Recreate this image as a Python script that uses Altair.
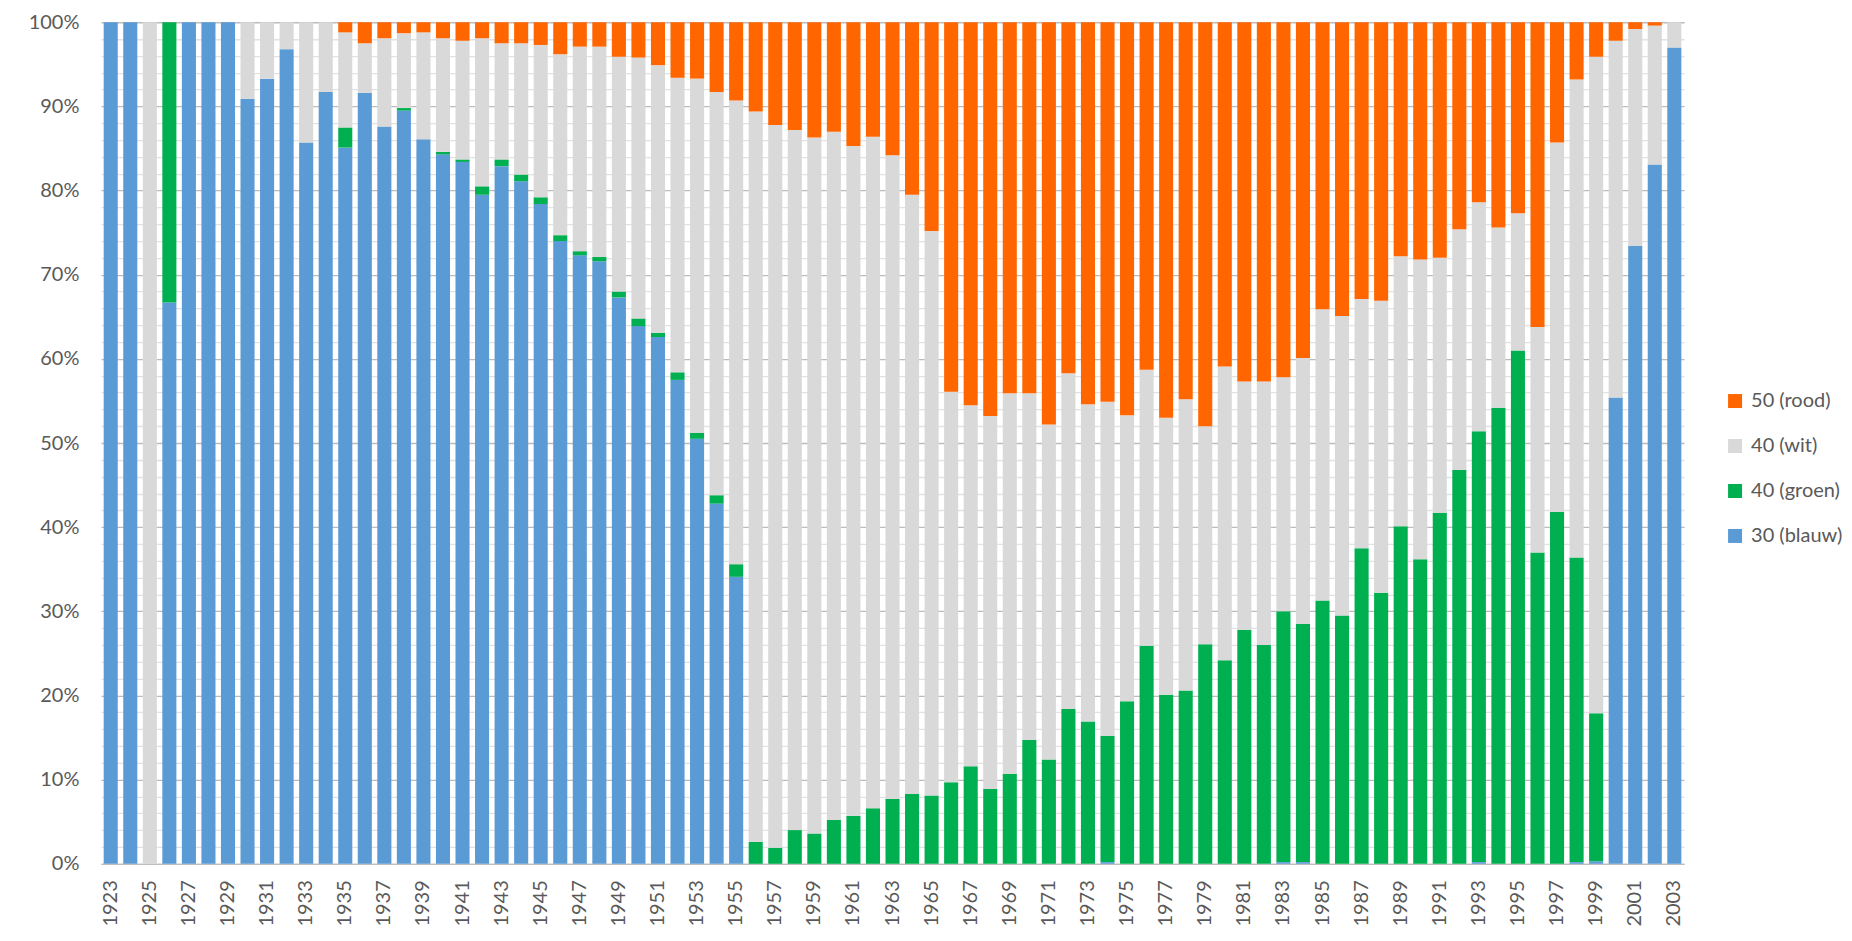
import altair as alt
import pandas as pd

years = list(range(1923, 2004))

# shares in percent per year (1923 .. 2003)
blauw = [100, 100, 0, 66.7, 100, 100, 100, 90.9, 93.3, 96.8,
         85.7, 91.7, 85.1, 91.6, 87.6, 89.5, 86.1, 84.3, 83.4, 79.5,
         82.9, 81.1, 78.4, 74.0, 72.3, 71.6, 67.3, 63.9, 62.6, 57.5,
         50.5, 42.8, 34.1, 0, 0, 0, 0, 0, 0, 0,
         0, 0, 0, 0, 0, 0, 0, 0, 0, 0,
         0, 0.2, 0, 0, 0, 0, 0, 0, 0, 0,
         0.2, 0.2, 0, 0, 0, 0, 0, 0, 0, 0,
         0.2, 0, 0, 0, 0, 0.2, 0.3, 55.4, 73.4, 83.1,
         97.0]
groen = [0, 0, 0, 33.3, 0, 0, 0, 0, 0, 0,
         0, 0, 2.4, 0, 0, 0.3, 0, 0.3, 0.3, 1.0,
         0.8, 0.8, 0.8, 0.7, 0.5, 0.5, 0.7, 0.9, 0.5, 0.9,
         0.7, 1.0, 1.5, 2.6, 1.9, 4.0, 3.6, 5.2, 5.7, 6.6,
         7.7, 8.3, 8.1, 9.7, 11.6, 8.9, 10.7, 14.7, 12.4, 18.4,
         16.9, 15.0, 19.3, 25.9, 20.1, 20.6, 26.1, 24.2, 27.8, 26.0,
         29.8, 28.3, 31.3, 29.5, 37.5, 32.2, 40.1, 36.2, 41.7, 46.8,
         51.2, 54.2, 61.0, 37.0, 41.8, 36.2, 17.6, 0, 0, 0,
         0]
wit = [0, 0, 100, 0, 0, 0, 0, 9.1, 6.7, 3.2,
       14.3, 8.3, 11.3, 5.9, 10.5, 8.9, 12.7, 13.5, 14.1, 17.6,
       13.8, 15.6, 18.1, 21.5, 24.3, 25.0, 27.9, 31.0, 31.8, 35.0,
       42.1, 47.9, 55.1, 86.8, 85.9, 83.2, 82.7, 81.8, 79.6, 79.8,
       76.5, 71.2, 67.1, 46.4, 42.9, 44.3, 45.2, 41.2, 39.8, 39.9,
       37.7, 39.7, 34.0, 32.8, 32.9, 34.6, 25.9, 34.9, 29.5, 31.3,
       27.8, 31.6, 34.6, 35.6, 29.6, 34.7, 32.1, 35.6, 30.3, 28.6,
       27.2, 21.4, 16.3, 26.8, 43.9, 56.8, 78.0, 42.4, 25.8, 16.5,
       3.0]
rood = [0, 0, 0, 0, 0, 0, 0, 0, 0, 0,
        0, 0, 1.2, 2.5, 1.9, 1.3, 1.2, 1.9, 2.2, 1.9,
        2.5, 2.5, 2.7, 3.8, 2.9, 2.9, 4.1, 4.2, 5.1, 6.6,
        6.7, 8.3, 9.3, 10.6, 12.2, 12.8, 13.7, 13.0, 14.7, 13.6,
        15.8, 20.5, 24.8, 43.9, 45.5, 46.8, 44.1, 44.1, 47.8, 41.7,
        45.4, 45.1, 46.7, 41.3, 47.0, 44.8, 48.0, 40.9, 42.7, 42.7,
        42.2, 39.9, 34.1, 34.9, 32.9, 33.1, 27.8, 28.2, 28.0, 24.6,
        21.4, 24.4, 22.7, 36.2, 14.3, 6.8, 4.1, 2.2, 0.8, 0.4,
        0]

series_names = ["30 (blauw)", "40 (groen)", "40 (wit)", "50 (rood)"]
series_values = [blauw, groen, wit, rood]
legend_order = ["50 (rood)", "40 (wit)", "40 (groen)", "30 (blauw)"]
legend_colors = ["#FF6600", "#D9D9D9", "#00B050", "#5B9BD5"]
label_years = [str(y) for y in years[::2]]

rows = []
for k, (name, vals) in enumerate(zip(series_names, series_values)):
    for y, v in zip(years, vals):
        rows.append({"jaar": str(y), "serie": name, "waarde": v, "volgorde": k})
df = pd.DataFrame(rows)

FONT = "Lato"
TXT = "#595959"
tick_vals = [i / 50 for i in range(51)]

chart = alt.Chart(df).mark_bar().encode(
    x=alt.X("jaar:O",
            scale=alt.Scale(paddingInner=0.28, paddingOuter=0.14),
            axis=alt.Axis(title=None, values=label_years, labelAngle=270,
                          labelAlign="right", labelBaseline="middle",
                          labelPadding=16, ticks=False, grid=False,
                          domain=True, domainColor="#BFBFBF",
                          labelFont=FONT, labelFontSize=20, labelColor=TXT)),
    y=alt.Y("waarde:Q", stack="normalize",
            scale=alt.Scale(domain=[0, 1], nice=False),
            axis=alt.Axis(title=None, values=tick_vals,
                          labelExpr="round(datum.value*100) % 10 === 0 ? format(datum.value, '.0%') : ''",
                          ticks=False, domain=False, labelPadding=22,
                          gridColor={"condition": {"test": "round(datum.value*100) % 10 === 0", "value": "#BCBCBC"},
                                     "value": "#E2E2E2"},
                          gridWidth=1.3,
                          labelFont=FONT, labelFontSize=20, labelColor=TXT)),
    color=alt.Color("serie:N",
                    scale=alt.Scale(domain=legend_order, range=legend_colors),
                    legend=alt.Legend(title=None, orient="none", legendX=1625, legendY=369,
                                      symbolType="square", symbolSize=196, symbolStrokeWidth=0,
                                      labelFont=FONT, labelFontSize=20, labelColor=TXT,
                                      labelOffset=6, rowPadding=25, padding=0)),
    order=alt.Order("volgorde:Q", sort="ascending"),
).properties(
    width=1584, height=842,
    autosize=alt.AutoSizeParams(type="none"),
    padding={"left": 93, "top": 14, "right": 160, "bottom": 62},
).configure_view(stroke=None)

chart.save("out.html", embed_options={"renderer": "svg", "actions": False})
